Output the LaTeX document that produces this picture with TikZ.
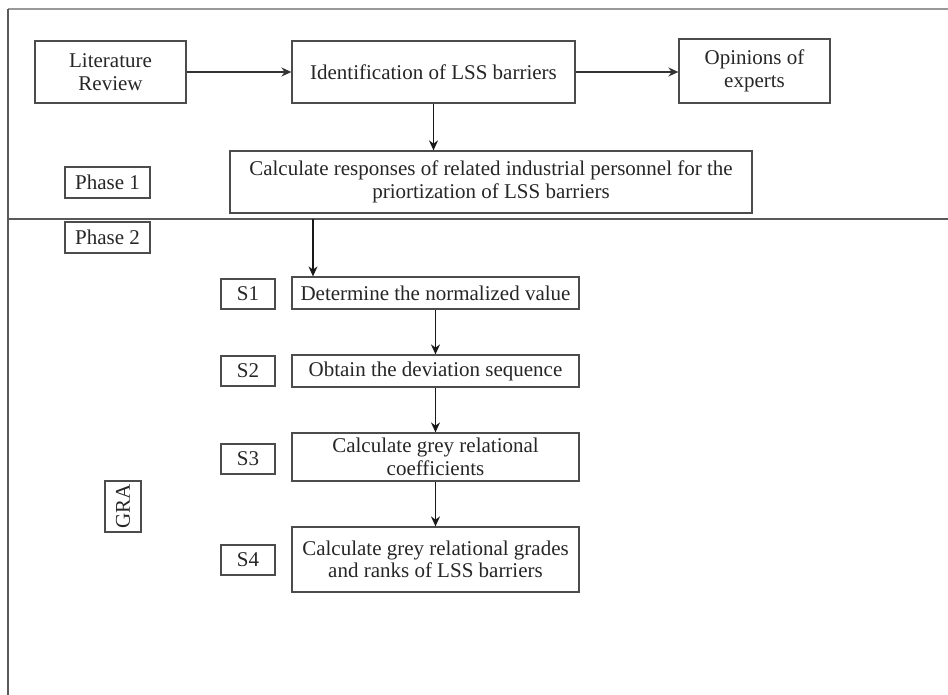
\documentclass[tikz,border=0pt]{standalone}
\usepackage{fontspec}
\setmainfont{Liberation Serif}
\usetikzlibrary{arrows.meta,positioning}

\begin{document}
\begin{tikzpicture}[x=1pt, y=-1pt, >={Stealth[length=10pt,width=9pt]},
  every node/.style={font=\fontsize{21}{22.5}\selectfont, text=black!85},
  box/.style={draw=black!70, line width=1.2pt, align=center, inner sep=0pt},
  tag/.style={box, minimum width=85pt, minimum height=31pt},
  stepno/.style={box, minimum width=54pt, minimum height=30pt},
  stepbox/.style={box, minimum width=287pt},
  frame/.style={black!65, line width=1.5pt},
  flow/.style={->, line width=1.5pt, black!90},
  wide/.style={->, line width=2pt, black!80}]
  \useasboundingbox (0,0) rectangle (948,695);
  \draw[frame, black!40] (8,9) -- (948,9);
  \draw[frame] (8,9) -- (8,695);
  \draw[frame, line width=2pt] (8,219) -- (948,219);
  \coordinate (split) at (313,219);

  \node[box, minimum width=151pt, minimum height=62pt] (lit) at (110.5,72) {Literature\\Review};
  \node[box, minimum width=283pt, minimum height=62pt] (ident) at (433.5,72) {Identification of LSS barriers};
  \node[box, minimum width=151pt, minimum height=64pt] (opin) at (754.5,71) {Opinions of\\experts};
  \node[box, minimum width=522pt, minimum height=62pt] (resp) at (491,182)
    {Calculate responses of related industrial personnel for the\\priortization of LSS barriers};
  \node[tag] (ph1) at (107.5,182.5) {Phase 1};
  \node[tag] (ph2) at (107.5,237.5) {Phase 2};

  \node[stepno] (s1) at (248,294) {S1};
  \node[stepno] (s2) at (248,371) {S2};
  \node[stepno] (s3) at (248,459) {S3};
  \node[stepno] (s4) at (248,560) {S4};
  \node[stepbox, minimum height=32pt] (norm) at (435.5,293) {Determine the normalized value};
  \node[stepbox, minimum height=32pt] (dev) at (435.5,371) {Obtain the deviation sequence};
  \node[stepbox, minimum height=48pt] (coef) at (435.5,457) {Calculate grey relational\\coefficients};
  \node[stepbox, minimum height=65pt] (grade) at (435.5,559.5) {Calculate grey relational grades\\and ranks of LSS barriers};
  \node[box, rotate=90, minimum width=51pt, minimum height=36pt] (gra) at (123,506.5) {GRA};

  \draw[wide] (lit.east) -- (ident.west);
  \draw[wide] (ident.east) -- (ident.east -| opin.west);
  \draw[flow] (ident.south) -- (ident.south |- resp.north);
  \draw[flow] (split) -- (split |- norm.north);
  \draw[flow] (norm) -- (dev);
  \draw[flow] (dev) -- (coef);
  \draw[flow] (coef) -- (grade);
\end{tikzpicture}
\end{document}
